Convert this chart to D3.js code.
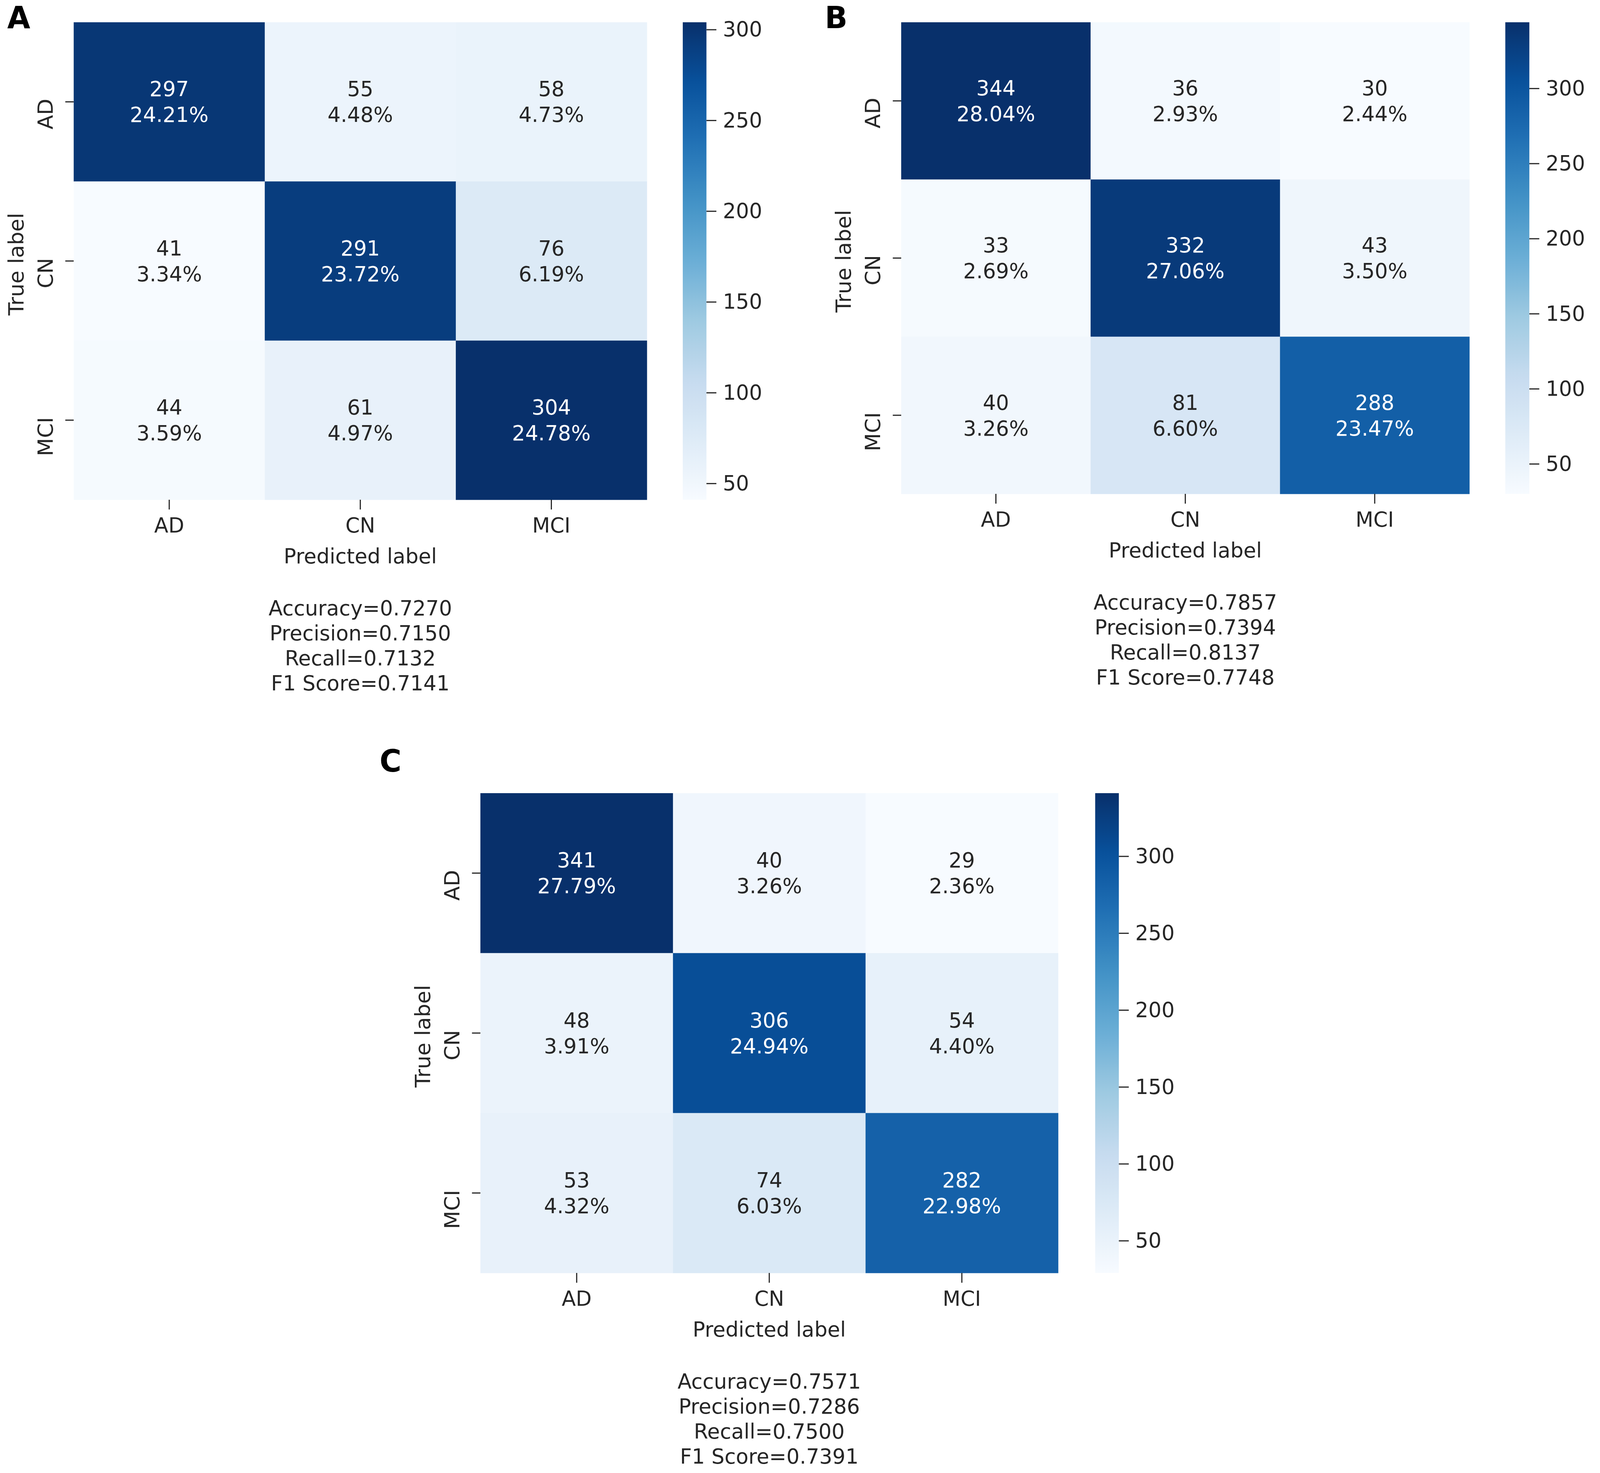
<!DOCTYPE html>
<html>
<head>
<meta charset="utf-8">
<script src="https://cdn.jsdelivr.net/npm/d3@7"></script>
<style>
  html, body { margin: 0; padding: 0; width: 100%; height: 100%; overflow: hidden; background: #fff; }
  #fig { display: block; width: 100vw; height: 100vh; }
  text { font-family: 'DejaVu Sans', sans-serif; fill: #262626; }
</style>
</head>
<body>
<svg id="fig"></svg>
<script>
// class names, same for rows (true) and columns (predicted)
const classes = ['AD', 'CN', 'MCI'];

const countsA = [[297, 55, 58], [41, 291, 76], [44, 61, 304]];
const percentsA = [['24.21%', '4.48%', '4.73%'], ['3.34%', '23.72%', '6.19%'], ['3.59%', '4.97%', '24.78%']];
const metricsA = ['Accuracy=0.7270', 'Precision=0.7150', 'Recall=0.7132', 'F1 Score=0.7141'];

const countsB = [[344, 36, 30], [33, 332, 43], [40, 81, 288]];
const percentsB = [['28.04%', '2.93%', '2.44%'], ['2.69%', '27.06%', '3.50%'], ['3.26%', '6.60%', '23.47%']];
const metricsB = ['Accuracy=0.7857', 'Precision=0.7394', 'Recall=0.8137', 'F1 Score=0.7748'];

const countsC = [[341, 40, 29], [48, 306, 54], [53, 74, 282]];
const percentsC = [['27.79%', '3.26%', '2.36%'], ['3.91%', '24.94%', '4.40%'], ['4.32%', '6.03%', '22.98%']];
const metricsC = ['Accuracy=0.7571', 'Precision=0.7286', 'Recall=0.7500', 'F1 Score=0.7391'];

const colorbarTicks = [50, 100, 150, 200, 250, 300];

// matplotlib "Blues" colormap nodes
const blues = ['#f7fbff', '#deebf7', '#c6dbef', '#9ecae1', '#6baed6', '#4292c6', '#2171b5', '#08519c', '#08306b'];

const W = 4190, H = 3770;
const fontSize = 54;

// the drawing is laid out in a 4190x3770 box and stretched to whatever the window is
const svg = d3.select('#fig')
  .attr('viewBox', `0 0 ${W} ${H}`)
  .attr('preserveAspectRatio', 'none');

svg.append('rect').attr('width', W).attr('height', H).attr('fill', '#fff');
const defs = svg.append('defs');

// relative luminance, like seaborn uses to pick annotation colour
function luminance(c) {
  const rgb = d3.rgb(c);
  const lin = v => {
    v = v / 255;
    return v <= 0.03928 ? v / 12.92 : Math.pow((v + 0.055) / 1.055, 2.4);
  };
  return 0.2126 * lin(rgb.r) + 0.7152 * lin(rgb.g) + 0.0722 * lin(rgb.b);
}

function drawPanel(id, letter, counts, percents, metrics, box) {
  const g = svg.append('g');
  const flat = counts.flat();
  const vmin = d3.min(flat), vmax = d3.max(flat);

  const color = d3.scaleLinear()
    .domain(blues.map((_, i) => vmin + i * (vmax - vmin) / (blues.length - 1)))
    .range(blues);

  const x = d3.scaleBand().domain(classes).range([box.x0, box.x1]);
  const y = d3.scaleBand().domain(classes).range([box.y0, box.y1]);

  const cells = [];
  counts.forEach((row, i) => row.forEach((v, j) => {
    cells.push({ t: classes[i], p: classes[j], v: v, pct: percents[i][j] });
  }));

  // heatmap cells
  g.selectAll('rect.cell')
    .data(cells)
    .enter()
    .append('rect')
    .attr('class', 'cell')
    .attr('x', d => x(d.p))
    .attr('y', d => y(d.t))
    .attr('width', x.bandwidth() + 0.5)
    .attr('height', y.bandwidth() + 0.5)
    .attr('fill', d => color(d.v));

  // annotations: count + percentage
  const ann = g.selectAll('g.ann')
    .data(cells)
    .enter()
    .append('g')
    .attr('class', 'ann')
    .attr('transform', d => `translate(${x(d.p) + x.bandwidth() / 2},${y(d.t) + y.bandwidth() / 2})`);

  ann.append('text')
    .attr('y', -33)
    .attr('text-anchor', 'middle')
    .attr('dominant-baseline', 'central')
    .attr('font-size', fontSize)
    .style('fill', d => luminance(color(d.v)) < 0.408 ? '#ffffff' : '#262626')
    .text(d => d.v);

  ann.append('text')
    .attr('y', 33)
    .attr('text-anchor', 'middle')
    .attr('dominant-baseline', 'central')
    .attr('font-size', fontSize)
    .style('fill', d => luminance(color(d.v)) < 0.408 ? '#ffffff' : '#262626')
    .text(d => d.pct);

  // x axis (predicted)
  const xAxis = g.append('g')
    .attr('transform', `translate(0,${box.y1})`)
    .call(d3.axisBottom(x).tickSize(25).tickPadding(12));
  xAxis.select('.domain').remove();
  xAxis.selectAll('line').attr('stroke', '#262626').attr('stroke-width', 3);
  xAxis.selectAll('text')
    .attr('font-size', fontSize)
    .attr('font-family', 'DejaVu Sans')
    .attr('y', 84)
    .attr('dy', null)
    .style('fill', '#262626');

  // y axis (true); labels hang down from the tick like in the source figure
  const yAxis = g.append('g')
    .attr('transform', `translate(${box.x0},0)`)
    .call(d3.axisLeft(y).tickSize(22));
  yAxis.select('.domain').remove();
  yAxis.selectAll('line').attr('stroke', '#262626').attr('stroke-width', 3);
  yAxis.selectAll('text')
    .attr('font-size', fontSize)
    .attr('font-family', 'DejaVu Sans')
    .attr('x', null)
    .attr('dy', null)
    .attr('text-anchor', 'end')
    .attr('transform', 'translate(-55,-8) rotate(-90)')
    .style('fill', '#262626');

  // axis titles
  g.append('text')
    .attr('x', (box.x0 + box.x1) / 2)
    .attr('y', box.y1 + 163)
    .attr('text-anchor', 'middle')
    .attr('font-size', fontSize)
    .text('Predicted label');

  g.append('text')
    .attr('transform', `translate(${box.x0 - 132},${(box.y0 + box.y1) / 2 + 8}) rotate(-90)`)
    .attr('text-anchor', 'middle')
    .attr('font-size', fontSize)
    .text('True label');

  // metrics block under the chart
  g.selectAll('text.metric')
    .data(metrics)
    .enter()
    .append('text')
    .attr('class', 'metric')
    .attr('x', (box.x0 + box.x1) / 2)
    .attr('y', (d, i) => box.y1 + 296 + i * 64)
    .attr('text-anchor', 'middle')
    .attr('font-size', fontSize)
    .text(d => d);

  // colorbar
  const grad = defs.append('linearGradient')
    .attr('id', 'grad' + id)
    .attr('x1', 0).attr('x2', 0)
    .attr('y1', 1).attr('y2', 0);
  d3.range(0, 1.0001, 0.02).forEach(t => {
    grad.append('stop')
      .attr('offset', t)
      .attr('stop-color', color(vmin + t * (vmax - vmin)));
  });

  g.append('rect')
    .attr('x', box.cb0)
    .attr('y', box.y0)
    .attr('width', box.cb1 - box.cb0)
    .attr('height', box.y1 - box.y0)
    .attr('fill', `url(#grad${id})`);

  const cScale = d3.scaleLinear().domain([vmin, vmax]).range([box.y1, box.y0]);
  const cAxis = g.append('g')
    .attr('transform', `translate(${box.cb1},0)`)
    .call(d3.axisRight(cScale).tickValues(colorbarTicks).tickSize(26).tickPadding(17));
  cAxis.select('.domain').remove();
  cAxis.selectAll('line').attr('stroke', '#262626').attr('stroke-width', 3);
  cAxis.selectAll('text')
    .attr('font-size', fontSize)
    .attr('font-family', 'DejaVu Sans')
    .style('fill', '#262626');

  // panel letter
  svg.append('text')
    .attr('x', box.lx)
    .attr('y', box.ly)
    .attr('font-family', 'Liberation Sans, Arial, sans-serif')
    .attr('font-weight', 'bold')
    .attr('font-size', 78)
    .style('fill', '#000')
    .text(letter);
}

drawPanel('A', 'A', countsA, percentsA, metricsA,
  { x0: 193, x1: 1694, y0: 57, y1: 1279, cb0: 1788, cb1: 1850, lx: 19, ly: 72 });
drawPanel('B', 'B', countsB, percentsB, metricsB,
  { x0: 2360, x1: 3848, y0: 57, y1: 1264, cb0: 3942, cb1: 4005, lx: 2160, ly: 72 });
drawPanel('C', 'C', countsC, percentsC, metricsC,
  { x0: 1258, x1: 2771, y0: 2030, y1: 3258, cb0: 2868, cb1: 2930, lx: 994, ly: 1975 });
</script>
</body>
</html>
